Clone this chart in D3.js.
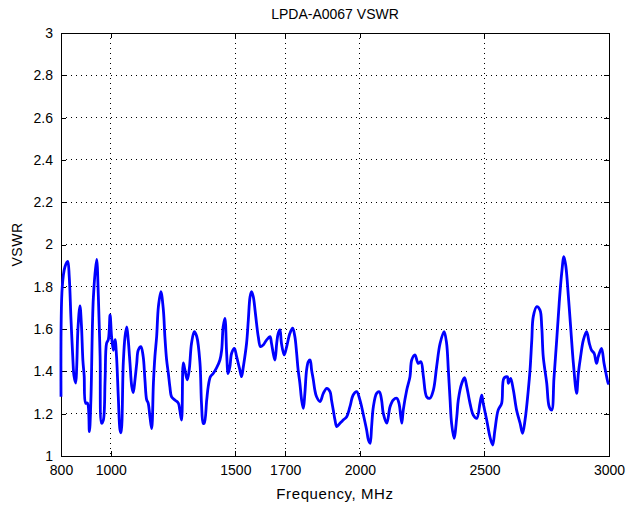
<!DOCTYPE html>
<html>
<head>
<meta charset="utf-8">
<script src="https://cdn.jsdelivr.net/npm/d3@7"></script>
<style>
  body { margin: 0; background: #fff; }
  text { font-family: "Liberation Sans", Arial, sans-serif; fill: #000; }
</style>
</head>
<body>
<svg id="chart" width="627" height="505"></svg>
<script>
// data
var freq = [800, 805, 816, 827, 833, 840, 848, 852, 859, 863, 868, 876, 882, 888, 893, 899, 906, 914, 920, 930,
  943, 950, 957, 963, 970, 977, 983, 990, 997, 1003, 1010, 1017, 1023, 1030, 1037, 1041, 1050, 1057, 1064, 1070,
  1077, 1084, 1090, 1097, 1104, 1110, 1121, 1130, 1137, 1144, 1150, 1157, 1164, 1171, 1177, 1184, 1191, 1201, 1211, 1217,
  1224, 1231, 1237, 1244, 1257, 1271, 1277, 1284, 1291, 1297, 1307, 1315, 1324, 1335, 1345, 1358, 1364, 1371, 1375, 1385,
  1391, 1400, 1411, 1424, 1438, 1445, 1451, 1458, 1465, 1471, 1478, 1485, 1496, 1505, 1518, 1525, 1532, 1545, 1552, 1559,
  1565, 1572, 1579, 1585, 1592, 1601, 1612, 1625, 1639, 1645, 1652, 1659, 1666, 1672, 1679, 1685, 1696, 1706, 1719, 1730,
  1739, 1746, 1752, 1759, 1766, 1773, 1779, 1786, 1793, 1800, 1806, 1813, 1819, 1826, 1840, 1853, 1867, 1880, 1886, 1893,
  1900, 1907, 1920, 1933, 1947, 1960, 1973, 1987, 2000, 2013, 2027, 2034, 2041, 2047, 2054, 2067, 2078, 2087, 2094, 2108,
  2121, 2134, 2148, 2157, 2168, 2174, 2188, 2201, 2208, 2221, 2234, 2245, 2255, 2268, 2281, 2295, 2308, 2322, 2338, 2348,
  2355, 2362, 2368, 2378, 2389, 2395, 2409, 2420, 2429, 2442, 2455, 2469, 2482, 2489, 2495, 2509, 2522, 2533, 2542, 2555,
  2569, 2578, 2592, 2596, 2605, 2616, 2629, 2643, 2653, 2663, 2676, 2683, 2690, 2696, 2710, 2723, 2730, 2736, 2750, 2760,
  2770, 2779, 2790, 2800, 2810, 2819, 2827, 2837, 2846, 2857, 2870, 2877, 2886, 2897, 2910, 2921, 2930, 2940, 2950, 2957,
  2970, 2980, 2988, 2997, 3000]
var vswr = [1.28, 1.80, 1.895, 1.92, 1.85, 1.65, 1.45, 1.38, 1.345, 1.42, 1.60, 1.71, 1.62, 1.45, 1.38, 1.25, 1.25, 1.115, 1.265, 1.75,
  1.93, 1.753, 1.47, 1.155, 1.17, 1.36, 1.533, 1.55, 1.667, 1.565, 1.50, 1.55, 1.47, 1.28, 1.123, 1.11, 1.438, 1.564, 1.61, 1.548,
  1.438, 1.33, 1.30, 1.36, 1.438, 1.50, 1.517, 1.47, 1.36, 1.265, 1.25, 1.186, 1.13, 1.345, 1.47, 1.565, 1.706, 1.777, 1.69, 1.565,
  1.454, 1.39, 1.328, 1.28, 1.265, 1.25, 1.217, 1.17, 1.44, 1.41, 1.36, 1.41, 1.533, 1.588, 1.565, 1.438, 1.25, 1.155, 1.154, 1.265,
  1.328, 1.375, 1.39, 1.415, 1.454, 1.50, 1.611, 1.651, 1.486, 1.39, 1.422, 1.486, 1.509, 1.47, 1.407, 1.375, 1.422, 1.533, 1.643, 1.753,
  1.777, 1.753, 1.69, 1.627, 1.564, 1.517, 1.525, 1.548, 1.564, 1.533, 1.486, 1.454, 1.533, 1.58, 1.596, 1.533, 1.478, 1.517, 1.58, 1.604,
  1.564, 1.486, 1.407, 1.344, 1.265, 1.225, 1.296, 1.407, 1.446, 1.454, 1.407, 1.36, 1.312, 1.28, 1.257, 1.296, 1.32, 1.304, 1.265, 1.217,
  1.17, 1.139, 1.155, 1.17, 1.186, 1.233, 1.288, 1.304, 1.265, 1.20, 1.123, 1.076, 1.06, 1.139, 1.233, 1.296, 1.304, 1.265, 1.20, 1.155,
  1.233, 1.265, 1.273, 1.249, 1.155, 1.217, 1.312, 1.375, 1.454, 1.478, 1.438, 1.446, 1.375, 1.28, 1.273, 1.312, 1.422, 1.533, 1.588, 1.533,
  1.407, 1.265, 1.155, 1.084, 1.186, 1.265, 1.344, 1.37, 1.328, 1.249, 1.194, 1.178, 1.249, 1.288, 1.249, 1.17, 1.091, 1.052, 1.123, 1.217,
  1.249, 1.367, 1.375, 1.344, 1.367, 1.312, 1.217, 1.155, 1.107, 1.17, 1.312, 1.407, 1.548, 1.659, 1.706, 1.69, 1.611, 1.47, 1.344, 1.233,
  1.217, 1.367, 1.548, 1.722, 1.864, 1.943, 1.895, 1.753, 1.611, 1.438, 1.296, 1.39, 1.47, 1.548, 1.588, 1.533, 1.50, 1.486, 1.438, 1.47,
  1.509, 1.438, 1.39, 1.344, 1.34]

var xTicks = [800, 1000, 1500, 1700, 2000, 2500, 3000]
var yTicks = [1, 1.2, 1.4, 1.6, 1.8, 2, 2.2, 2.4, 2.6, 2.8, 3]

var margin = {left: 61, right: 18, top: 33, bottom: 49}
var width = 627 - margin.left - margin.right
var height = 505 - margin.top - margin.bottom

var svg = d3.select("#chart")
var g = svg.append("g").attr("transform", "translate(" + margin.left + "," + margin.top + ")")

var xScale = d3.scaleLinear().domain([800, 3000]).range([0, width])
var yScale = d3.scaleLinear().domain([1, 3]).range([height, 0])

// dotted grid
g.append("g").selectAll("line").data(xTicks.slice(1, -1)).enter().append("line")
    .attr("x1", d => xScale(d)).attr("x2", d => xScale(d))
    .attr("y1", 0).attr("y2", height)
    .attr("stroke", "#000").attr("stroke-width", 1).attr("stroke-dasharray", "1,4")
    .attr("shape-rendering", "crispEdges")
g.append("g").selectAll("line").data(yTicks.slice(1, -1)).enter().append("line")
    .attr("x1", 0).attr("x2", width)
    .attr("y1", d => yScale(d)).attr("y2", d => yScale(d))
    .attr("stroke", "#000").attr("stroke-width", 1).attr("stroke-dasharray", "1,4")
    .attr("shape-rendering", "crispEdges")

// axes with inward ticks, MATLAB style
var xAxis = d3.axisBottom(xScale).tickValues(xTicks).tickSizeInner(-5).tickSizeOuter(0).tickPadding(9).tickFormat(d3.format("d"))
var yAxis = d3.axisLeft(yScale).tickValues(yTicks).tickSizeInner(-5).tickSizeOuter(0).tickPadding(8).tickFormat(d => d3.format("")(+d.toFixed(1)))
var xAxisTop = d3.axisTop(xScale).tickValues(xTicks).tickSizeInner(-5).tickSizeOuter(0).tickFormat("")
var yAxisRight = d3.axisRight(yScale).tickValues(yTicks).tickSizeInner(-5).tickSizeOuter(0).tickFormat("")

function styleAxis(sel) {
    sel.select(".domain").remove()
    sel.selectAll("line").attr("stroke", "#000").attr("shape-rendering", "crispEdges")
    sel.selectAll("text").style("font-size", "14px").attr("fill", "#000")
}
g.append("g").attr("transform", "translate(0," + height + ")").call(xAxis).call(styleAxis)
g.append("g").call(yAxis).call(styleAxis)
g.append("g").call(xAxisTop).call(styleAxis)
g.append("g").attr("transform", "translate(" + width + ",0)").call(yAxisRight).call(styleAxis)

g.append("rect").attr("x", 0).attr("y", 0).attr("width", width).attr("height", height)
    .attr("fill", "none").attr("stroke", "#000").attr("stroke-width", 1).attr("shape-rendering", "crispEdges")

var points = freq.map((f, i) => [f, vswr[i]])
g.append("path")
    .datum(points)
    .attr("fill", "none")
    .attr("stroke", "#0000ff")
    .attr("stroke-width", 2.8)
    .attr("stroke-linejoin", "round")
    .attr("d", d3.line().curve(d3.curveCatmullRom.alpha(0.5))
        .x(d => xScale(d[0]))
        .y(d => yScale(d[1])))

svg.append("text").attr("x", margin.left + width / 2).attr("y", 19)
    .attr("text-anchor", "middle").style("font-size", "14px").text("LPDA-A0067 VSWR")
svg.append("text").attr("x", margin.left + width / 2).attr("y", 499)
    .attr("text-anchor", "middle").style("font-size", "15px").style("letter-spacing", "0.6px").text("Frequency, MHz")
svg.append("text").attr("transform", "translate(22," + (margin.top + height / 2) + ") rotate(-90)")
    .attr("text-anchor", "middle").style("font-size", "14px").style("letter-spacing", "0.5px").text("VSWR")
</script>
</body>
</html>
